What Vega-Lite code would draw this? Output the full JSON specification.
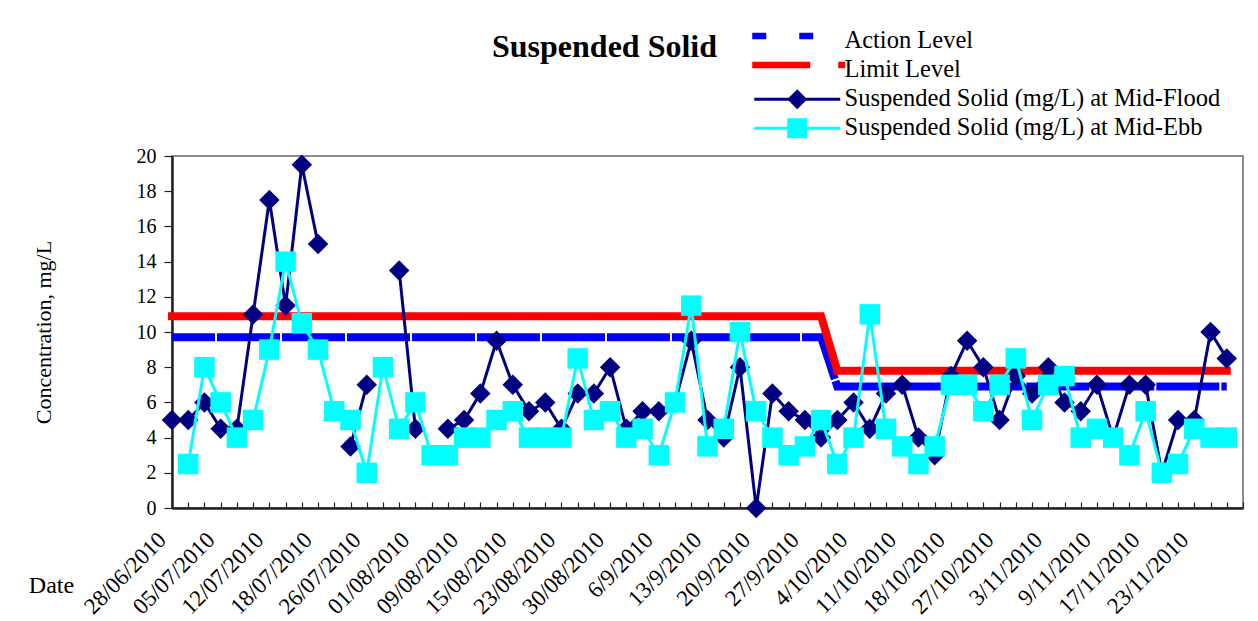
{
  "$schema": "https://vega.github.io/schema/vega-lite/v6.json",
  "width": 1071,
  "height": 352,
  "autosize": "none",
  "padding": {"left": 172, "top": 156, "right": 15, "bottom": 113},
  "background": "white",
  "config": {
    "view": {"stroke": "#8c8c8c", "strokeWidth": 2},
    "font": "Liberation Serif"
  },
  "title": {
    "text": "Suspended Solid",
    "orient": "none",
    "anchor": "start",
    "frame": "group",
    "dx": 320,
    "dy": -99,
    "baseline": "alphabetic",
    "font": "Liberation Serif",
    "fontSize": 32,
    "fontWeight": "bold",
    "color": "black"
  },
  "data": {
    "values": [
      {"i": 0, "series": "Action Level", "v": 9.7},
      {"i": 40, "series": "Action Level", "v": 9.7},
      {"i": 41, "series": "Action Level", "v": 6.9},
      {"i": 65, "series": "Action Level", "v": 6.9},
      {"i": 0, "series": "Limit Level", "v": 10.9},
      {"i": 40, "series": "Limit Level", "v": 10.9},
      {"i": 41, "series": "Limit Level", "v": 7.8},
      {"i": 65, "series": "Limit Level", "v": 7.8},
      {"i": 0, "series": "Suspended Solid (mg/L) at Mid-Flood", "v": 5},
      {"i": 1, "series": "Suspended Solid (mg/L) at Mid-Flood", "v": 5},
      {"i": 2, "series": "Suspended Solid (mg/L) at Mid-Flood", "v": 6},
      {"i": 3, "series": "Suspended Solid (mg/L) at Mid-Flood", "v": 4.5},
      {"i": 4, "series": "Suspended Solid (mg/L) at Mid-Flood", "v": 4.5},
      {"i": 5, "series": "Suspended Solid (mg/L) at Mid-Flood", "v": 11},
      {"i": 6, "series": "Suspended Solid (mg/L) at Mid-Flood", "v": 17.5},
      {"i": 7, "series": "Suspended Solid (mg/L) at Mid-Flood", "v": 11.5},
      {"i": 8, "series": "Suspended Solid (mg/L) at Mid-Flood", "v": 19.5},
      {"i": 9, "series": "Suspended Solid (mg/L) at Mid-Flood", "v": 15},
      {"i": 10, "series": "Suspended Solid (mg/L) at Mid-Flood", "v": null},
      {"i": 11, "series": "Suspended Solid (mg/L) at Mid-Flood", "v": 3.5},
      {"i": 12, "series": "Suspended Solid (mg/L) at Mid-Flood", "v": 7},
      {"i": 13, "series": "Suspended Solid (mg/L) at Mid-Flood", "v": null},
      {"i": 14, "series": "Suspended Solid (mg/L) at Mid-Flood", "v": 13.5},
      {"i": 15, "series": "Suspended Solid (mg/L) at Mid-Flood", "v": 4.5},
      {"i": 16, "series": "Suspended Solid (mg/L) at Mid-Flood", "v": null},
      {"i": 17, "series": "Suspended Solid (mg/L) at Mid-Flood", "v": 4.5},
      {"i": 18, "series": "Suspended Solid (mg/L) at Mid-Flood", "v": 5},
      {"i": 19, "series": "Suspended Solid (mg/L) at Mid-Flood", "v": 6.5},
      {"i": 20, "series": "Suspended Solid (mg/L) at Mid-Flood", "v": 9.5},
      {"i": 21, "series": "Suspended Solid (mg/L) at Mid-Flood", "v": 7},
      {"i": 22, "series": "Suspended Solid (mg/L) at Mid-Flood", "v": 5.5},
      {"i": 23, "series": "Suspended Solid (mg/L) at Mid-Flood", "v": 6},
      {"i": 24, "series": "Suspended Solid (mg/L) at Mid-Flood", "v": 4.5},
      {"i": 25, "series": "Suspended Solid (mg/L) at Mid-Flood", "v": 6.5},
      {"i": 26, "series": "Suspended Solid (mg/L) at Mid-Flood", "v": 6.5},
      {"i": 27, "series": "Suspended Solid (mg/L) at Mid-Flood", "v": 8},
      {"i": 28, "series": "Suspended Solid (mg/L) at Mid-Flood", "v": 4.5},
      {"i": 29, "series": "Suspended Solid (mg/L) at Mid-Flood", "v": 5.5},
      {"i": 30, "series": "Suspended Solid (mg/L) at Mid-Flood", "v": 5.5},
      {"i": 31, "series": "Suspended Solid (mg/L) at Mid-Flood", "v": 6},
      {"i": 32, "series": "Suspended Solid (mg/L) at Mid-Flood", "v": 9.5},
      {"i": 33, "series": "Suspended Solid (mg/L) at Mid-Flood", "v": 5},
      {"i": 34, "series": "Suspended Solid (mg/L) at Mid-Flood", "v": 4},
      {"i": 35, "series": "Suspended Solid (mg/L) at Mid-Flood", "v": 8},
      {"i": 36, "series": "Suspended Solid (mg/L) at Mid-Flood", "v": 0},
      {"i": 37, "series": "Suspended Solid (mg/L) at Mid-Flood", "v": 6.5},
      {"i": 38, "series": "Suspended Solid (mg/L) at Mid-Flood", "v": 5.5},
      {"i": 39, "series": "Suspended Solid (mg/L) at Mid-Flood", "v": 5},
      {"i": 40, "series": "Suspended Solid (mg/L) at Mid-Flood", "v": 4},
      {"i": 41, "series": "Suspended Solid (mg/L) at Mid-Flood", "v": 5},
      {"i": 42, "series": "Suspended Solid (mg/L) at Mid-Flood", "v": 6},
      {"i": 43, "series": "Suspended Solid (mg/L) at Mid-Flood", "v": 4.5},
      {"i": 44, "series": "Suspended Solid (mg/L) at Mid-Flood", "v": 6.5},
      {"i": 45, "series": "Suspended Solid (mg/L) at Mid-Flood", "v": 7},
      {"i": 46, "series": "Suspended Solid (mg/L) at Mid-Flood", "v": 4},
      {"i": 47, "series": "Suspended Solid (mg/L) at Mid-Flood", "v": 3},
      {"i": 48, "series": "Suspended Solid (mg/L) at Mid-Flood", "v": 7.5},
      {"i": 49, "series": "Suspended Solid (mg/L) at Mid-Flood", "v": 9.5},
      {"i": 50, "series": "Suspended Solid (mg/L) at Mid-Flood", "v": 8},
      {"i": 51, "series": "Suspended Solid (mg/L) at Mid-Flood", "v": 5},
      {"i": 52, "series": "Suspended Solid (mg/L) at Mid-Flood", "v": 7.5},
      {"i": 53, "series": "Suspended Solid (mg/L) at Mid-Flood", "v": 6.5},
      {"i": 54, "series": "Suspended Solid (mg/L) at Mid-Flood", "v": 8},
      {"i": 55, "series": "Suspended Solid (mg/L) at Mid-Flood", "v": 6},
      {"i": 56, "series": "Suspended Solid (mg/L) at Mid-Flood", "v": 5.5},
      {"i": 57, "series": "Suspended Solid (mg/L) at Mid-Flood", "v": 7},
      {"i": 58, "series": "Suspended Solid (mg/L) at Mid-Flood", "v": 4},
      {"i": 59, "series": "Suspended Solid (mg/L) at Mid-Flood", "v": 7},
      {"i": 60, "series": "Suspended Solid (mg/L) at Mid-Flood", "v": 7},
      {"i": 61, "series": "Suspended Solid (mg/L) at Mid-Flood", "v": 2},
      {"i": 62, "series": "Suspended Solid (mg/L) at Mid-Flood", "v": 5},
      {"i": 63, "series": "Suspended Solid (mg/L) at Mid-Flood", "v": 5},
      {"i": 64, "series": "Suspended Solid (mg/L) at Mid-Flood", "v": 10},
      {"i": 65, "series": "Suspended Solid (mg/L) at Mid-Flood", "v": 8.5},
      {"i": 1, "series": "Suspended Solid (mg/L) at Mid-Ebb", "v": 2.5},
      {"i": 2, "series": "Suspended Solid (mg/L) at Mid-Ebb", "v": 8},
      {"i": 3, "series": "Suspended Solid (mg/L) at Mid-Ebb", "v": 6},
      {"i": 4, "series": "Suspended Solid (mg/L) at Mid-Ebb", "v": 4},
      {"i": 5, "series": "Suspended Solid (mg/L) at Mid-Ebb", "v": 5},
      {"i": 6, "series": "Suspended Solid (mg/L) at Mid-Ebb", "v": 9},
      {"i": 7, "series": "Suspended Solid (mg/L) at Mid-Ebb", "v": 14},
      {"i": 8, "series": "Suspended Solid (mg/L) at Mid-Ebb", "v": 10.5},
      {"i": 9, "series": "Suspended Solid (mg/L) at Mid-Ebb", "v": 9},
      {"i": 10, "series": "Suspended Solid (mg/L) at Mid-Ebb", "v": 5.5},
      {"i": 11, "series": "Suspended Solid (mg/L) at Mid-Ebb", "v": 5},
      {"i": 12, "series": "Suspended Solid (mg/L) at Mid-Ebb", "v": 2},
      {"i": 13, "series": "Suspended Solid (mg/L) at Mid-Ebb", "v": 8},
      {"i": 14, "series": "Suspended Solid (mg/L) at Mid-Ebb", "v": 4.5},
      {"i": 15, "series": "Suspended Solid (mg/L) at Mid-Ebb", "v": 6},
      {"i": 16, "series": "Suspended Solid (mg/L) at Mid-Ebb", "v": 3},
      {"i": 17, "series": "Suspended Solid (mg/L) at Mid-Ebb", "v": 3},
      {"i": 18, "series": "Suspended Solid (mg/L) at Mid-Ebb", "v": 4},
      {"i": 19, "series": "Suspended Solid (mg/L) at Mid-Ebb", "v": 4},
      {"i": 20, "series": "Suspended Solid (mg/L) at Mid-Ebb", "v": 5},
      {"i": 21, "series": "Suspended Solid (mg/L) at Mid-Ebb", "v": 5.5},
      {"i": 22, "series": "Suspended Solid (mg/L) at Mid-Ebb", "v": 4},
      {"i": 23, "series": "Suspended Solid (mg/L) at Mid-Ebb", "v": 4},
      {"i": 24, "series": "Suspended Solid (mg/L) at Mid-Ebb", "v": 4},
      {"i": 25, "series": "Suspended Solid (mg/L) at Mid-Ebb", "v": 8.5},
      {"i": 26, "series": "Suspended Solid (mg/L) at Mid-Ebb", "v": 5},
      {"i": 27, "series": "Suspended Solid (mg/L) at Mid-Ebb", "v": 5.5},
      {"i": 28, "series": "Suspended Solid (mg/L) at Mid-Ebb", "v": 4},
      {"i": 29, "series": "Suspended Solid (mg/L) at Mid-Ebb", "v": 4.5},
      {"i": 30, "series": "Suspended Solid (mg/L) at Mid-Ebb", "v": 3},
      {"i": 31, "series": "Suspended Solid (mg/L) at Mid-Ebb", "v": 6},
      {"i": 32, "series": "Suspended Solid (mg/L) at Mid-Ebb", "v": 11.5},
      {"i": 33, "series": "Suspended Solid (mg/L) at Mid-Ebb", "v": 3.5},
      {"i": 34, "series": "Suspended Solid (mg/L) at Mid-Ebb", "v": 4.5},
      {"i": 35, "series": "Suspended Solid (mg/L) at Mid-Ebb", "v": 10},
      {"i": 36, "series": "Suspended Solid (mg/L) at Mid-Ebb", "v": 5.5},
      {"i": 37, "series": "Suspended Solid (mg/L) at Mid-Ebb", "v": 4},
      {"i": 38, "series": "Suspended Solid (mg/L) at Mid-Ebb", "v": 3},
      {"i": 39, "series": "Suspended Solid (mg/L) at Mid-Ebb", "v": 3.5},
      {"i": 40, "series": "Suspended Solid (mg/L) at Mid-Ebb", "v": 5},
      {"i": 41, "series": "Suspended Solid (mg/L) at Mid-Ebb", "v": 2.5},
      {"i": 42, "series": "Suspended Solid (mg/L) at Mid-Ebb", "v": 4},
      {"i": 43, "series": "Suspended Solid (mg/L) at Mid-Ebb", "v": 11},
      {"i": 44, "series": "Suspended Solid (mg/L) at Mid-Ebb", "v": 4.5},
      {"i": 45, "series": "Suspended Solid (mg/L) at Mid-Ebb", "v": 3.5},
      {"i": 46, "series": "Suspended Solid (mg/L) at Mid-Ebb", "v": 2.5},
      {"i": 47, "series": "Suspended Solid (mg/L) at Mid-Ebb", "v": 3.5},
      {"i": 48, "series": "Suspended Solid (mg/L) at Mid-Ebb", "v": 7},
      {"i": 49, "series": "Suspended Solid (mg/L) at Mid-Ebb", "v": 7},
      {"i": 50, "series": "Suspended Solid (mg/L) at Mid-Ebb", "v": 5.5},
      {"i": 51, "series": "Suspended Solid (mg/L) at Mid-Ebb", "v": 7},
      {"i": 52, "series": "Suspended Solid (mg/L) at Mid-Ebb", "v": 8.5},
      {"i": 53, "series": "Suspended Solid (mg/L) at Mid-Ebb", "v": 5},
      {"i": 54, "series": "Suspended Solid (mg/L) at Mid-Ebb", "v": 7},
      {"i": 55, "series": "Suspended Solid (mg/L) at Mid-Ebb", "v": 7.5},
      {"i": 56, "series": "Suspended Solid (mg/L) at Mid-Ebb", "v": 4},
      {"i": 57, "series": "Suspended Solid (mg/L) at Mid-Ebb", "v": 4.5},
      {"i": 58, "series": "Suspended Solid (mg/L) at Mid-Ebb", "v": 4},
      {"i": 59, "series": "Suspended Solid (mg/L) at Mid-Ebb", "v": 3},
      {"i": 60, "series": "Suspended Solid (mg/L) at Mid-Ebb", "v": 5.5},
      {"i": 61, "series": "Suspended Solid (mg/L) at Mid-Ebb", "v": 2},
      {"i": 62, "series": "Suspended Solid (mg/L) at Mid-Ebb", "v": 2.5},
      {"i": 63, "series": "Suspended Solid (mg/L) at Mid-Ebb", "v": 4.5},
      {"i": 64, "series": "Suspended Solid (mg/L) at Mid-Ebb", "v": 4},
      {"i": 65, "series": "Suspended Solid (mg/L) at Mid-Ebb", "v": 4}
    ]
  },
  "encoding": {
    "x": {
      "field": "i",
      "type": "quantitative",
      "scale": {"domain": [0, 66], "nice": false, "zero": false},
      "axis": {
        "values": [0,1,2,3,4,5,6,7,8,9,10,11,12,13,14,15,16,17,18,19,20,21,22,23,24,25,26,27,28,29,30,31,32,33,34,35,36,37,38,39,40,41,42,43,44,45,46,47,48,49,50,51,52,53,54,55,56,57,58,59,60,61,62,63,64,65,66],
        "labelExpr": "datum.value % 3 == 0 && datum.value <= 63 ? ['28/06/2010','05/07/2010','12/07/2010','18/07/2010','26/07/2010','01/08/2010','09/08/2010','15/08/2010','23/08/2010','30/08/2010','6/9/2010','13/9/2010','20/9/2010','27/9/2010','4/10/2010','11/10/2010','18/10/2010','27/10/2010','3/11/2010','9/11/2010','17/11/2010','23/11/2010'][datum.value / 3] : ''",
        "labelAngle": -45,
        "labelAlign": "right",
        "labelBaseline": "middle",
        "labelFont": "Liberation Serif",
        "labelFontSize": 23,
        "labelColor": "black",
        "labelPadding": 34,
        "labelOffset": -10,
        "labelOverlap": false,
        "labelFlush": false,
        "labelBound": false,
        "labelLimit": 0,
        "tickSize": -6,
        "tickColor": "#222",
        "tickWidth": 1.2,
        "domainColor": "#222",
        "domainWidth": 2.5,
        "grid": false,
        "title": "Date",
        "titleFont": "Liberation Serif",
        "titleFontSize": 24,
        "titleFontWeight": "normal",
        "titleColor": "black",
        "titleX": -121,
        "titleY": 77,
        "titleAlign": "center",
        "titleBaseline": "middle",
        "titleAngle": 0
      }
    },
    "y": {
      "field": "v",
      "type": "quantitative",
      "scale": {"domain": [0, 20], "nice": false},
      "axis": {
        "values": [0,2,4,6,8,10,12,14,16,18,20],
        "labelFont": "Liberation Serif",
        "labelFontSize": 20,
        "labelColor": "black",
        "labelPadding": 8,
        "tickSize": 8,
        "tickColor": "#222",
        "tickWidth": 1.2,
        "domainColor": "#222",
        "domainWidth": 2.5,
        "grid": false,
        "title": "Concentration, mg/L",
        "titleFont": "Liberation Serif",
        "titleFontSize": 22,
        "titleFontWeight": "normal",
        "titleColor": "black",
        "titleX": -129,
        "titleY": 176,
        "titleAlign": "center",
        "titleBaseline": "middle",
        "titleAngle": -90
      }
    },
    "color": {
      "field": "series",
      "type": "nominal",
      "scale": {
        "domain": ["Action Level", "Limit Level", "Suspended Solid (mg/L) at Mid-Flood", "Suspended Solid (mg/L) at Mid-Ebb"],
        "range": ["#0000ff", "#ff0000", "#000080", "#00ffff"]
      },
      "legend": {
        "orient": "none",
        "legendX": 578,
        "legendY": -127,
        "title": null,
        "direction": "vertical",
        "labelFont": "Liberation Serif",
        "labelFontSize": 24.5,
        "labelColor": "black",
        "labelLimit": 0,
        "symbolSize": 400,
        "labelOffset": 70,
        "rowPadding": 4,
        "padding": 0,
        "encode": {
          "symbols": {
            "update": {
              "shape": {"signal": "datum.value == 'Action Level' ? 'M-1,-0.85H0.4V-0.2H-1Z M3.7,-0.85H5.1V-0.2H3.7Z' : datum.value == 'Limit Level' ? 'M-1,-0.85H4.8V-0.2H-1Z M7.6,-0.85H8.3V-0.2H7.6Z' : datum.value == 'Suspended Solid (mg/L) at Mid-Flood' ? 'M-0.8,-0.15H7.8V0.15H-0.8Z M2.5,0L3.5,-1L4.5,0L3.5,1Z' : 'M-0.8,-0.15H7.8V0.15H-0.8Z M2.5,-1H4.5V1H2.5Z'"},
              "size": {"value": 400},
              "fill": {"scale": "color", "field": "value"},
              "fillOpacity": {"value": 1},
              "opacity": {"value": 1},
              "stroke": {"value": "transparent"},
              "strokeWidth": {"value": 0}
            }
          }
        }
      }
    }
  },
  "layer": [
    {
      "transform": [{"filter": "datum.series == 'Action Level'"}],
      "mark": {"type": "line", "strokeWidth": 8, "strokeDash": [63, 2], "strokeDashOffset": 20, "strokeCap": "butt"}
    },
    {
      "transform": [{"filter": "datum.series == 'Limit Level'"}],
      "mark": {"type": "line", "strokeWidth": 8, "strokeCap": "square"}
    },
    {
      "transform": [{"filter": "datum.series == 'Suspended Solid (mg/L) at Mid-Flood'"}],
      "mark": {"type": "line", "strokeWidth": 3, "invalid": "break-paths-filter-domains"}
    },
    {
      "transform": [{"filter": "datum.series == 'Suspended Solid (mg/L) at Mid-Flood' && isValid(datum.v)"}],
      "mark": {"type": "point", "shape": "diamond", "filled": true, "size": 420, "opacity": 1, "strokeWidth": 0}
    },
    {
      "transform": [{"filter": "datum.series == 'Suspended Solid (mg/L) at Mid-Ebb'"}],
      "mark": {"type": "line", "strokeWidth": 3}
    },
    {
      "transform": [{"filter": "datum.series == 'Suspended Solid (mg/L) at Mid-Ebb'"}],
      "mark": {"type": "point", "shape": "square", "filled": true, "size": 420, "opacity": 1, "strokeWidth": 0}
    }
  ]
}
